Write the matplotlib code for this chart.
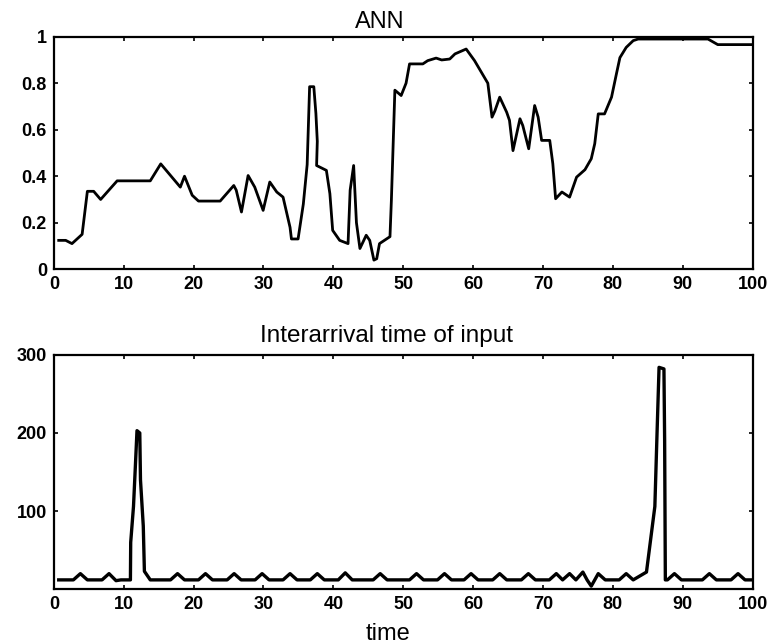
import matplotlib.pyplot as plt
from matplotlib.ticker import FormatStrFormatter

plt.rcParams['font.family'] = ['Liberation Sans', 'DejaVu Sans']

# ANN output
annT = [0.7, 1.7, 2.6, 4.05, 4.8, 5.7, 6.7, 9.06, 13.8, 15.3, 18.1, 18.7, 19.8, 20.7, 23.8,
        25.75, 26.1, 26.85, 27.8, 28.75, 29.95, 30.9, 31.9, 32.8, 33.8, 34.0, 34.95, 35.7,
        36.25, 36.6, 37.2, 37.5, 37.7, 37.6, 39.0, 39.5, 39.9, 40.9, 42.1, 42.4, 42.9, 43.3,
        43.8, 44.7, 45.2, 45.8, 46.2, 46.6, 47.1, 48.1, 48.3, 48.8, 49.7, 50.4, 50.9, 52.8,
        53.5, 54.7, 55.5, 56.65, 57.4, 59.0, 60.2, 62.1, 62.7, 63.1, 63.8, 64.8, 65.2, 65.7,
        66.7, 67.1, 67.95, 68.8, 69.3, 69.8, 70.96, 71.4, 71.8, 72.7, 73.8, 74.8, 76.0,
        76.9, 77.4, 77.9, 78.8, 79.8, 80.5, 81.0, 81.9, 82.9, 83.6, 93.6, 95.0, 100.0]
annY = [0.124, 0.124, 0.11, 0.15, 0.335, 0.335, 0.30, 0.38, 0.38, 0.453, 0.353, 0.40, 0.318,
        0.293, 0.293, 0.36, 0.34, 0.246, 0.403, 0.353, 0.253, 0.375, 0.332, 0.31, 0.18, 0.13,
        0.13, 0.28, 0.45, 0.785, 0.785, 0.67, 0.55, 0.446, 0.425, 0.325, 0.167, 0.124, 0.11,
        0.34, 0.446, 0.20, 0.089, 0.146, 0.124, 0.039, 0.045, 0.11, 0.12, 0.14, 0.296, 0.77,
        0.747, 0.80, 0.883, 0.883, 0.897, 0.908, 0.90, 0.904, 0.926, 0.947, 0.897, 0.80,
        0.654, 0.68, 0.74, 0.675, 0.64, 0.51, 0.647, 0.618, 0.518, 0.704, 0.654, 0.554,
        0.554, 0.454, 0.303, 0.332, 0.31, 0.396, 0.428, 0.475, 0.54, 0.668, 0.668, 0.74,
        0.84, 0.91, 0.954, 0.983, 0.99, 0.99, 0.966, 0.966]

# interarrival time of input
iaT = [0.7, 2.8, 3.8, 4.8, 6.9, 7.9, 8.9, 9.6, 10.96, 11.0, 11.4, 11.66, 11.9, 12.3, 12.4,
       12.8, 12.96, 13.8, 16.7, 17.7, 18.7, 20.7, 21.7, 22.7, 24.8, 25.8, 26.8, 28.8, 29.8,
       30.8, 32.8, 33.8, 34.8, 36.7, 37.7, 38.7, 40.7, 41.7, 42.7, 45.7, 46.7, 47.7, 50.9,
       51.9, 52.9, 54.9, 55.9, 56.9, 58.7, 59.7, 60.7, 62.8, 63.8, 64.8, 66.9, 67.9, 68.9,
       70.9, 71.9, 72.8, 73.8, 74.7, 75.7, 76.3, 76.9, 77.9, 78.9, 80.9, 81.9, 82.9, 84.8,
       86.0, 86.3, 86.6, 87.3, 87.4, 87.5, 87.8, 88.8, 89.8, 92.8, 93.8, 94.8, 96.9, 97.9,
       98.9, 100.0]
iaY = [12, 12, 20, 12, 12, 20, 11, 12, 12, 60, 106, 156, 203, 200, 140, 81, 23, 12, 12, 20,
       12, 12, 20, 12, 12, 20, 12, 12, 20, 12, 12, 20, 12, 12, 20, 12, 12, 21, 12, 12, 20, 12,
       12, 20, 12, 12, 20, 12, 12, 20, 12, 12, 20, 12, 12, 20, 12, 12, 20, 12, 20, 12, 22, 12,
       4, 20, 12, 12, 20, 12, 22, 106, 196, 284, 282, 190, 12, 12, 20, 12, 12, 20, 12, 12, 20,
       12, 12]

fig = plt.figure(figsize=(7.8, 6.44), dpi=100)
ax1 = fig.add_axes([0.069, 0.582, 0.896, 0.361])
ax2 = fig.add_axes([0.069, 0.085, 0.896, 0.364])

ax1.plot(annT, annY, color='black', lw=2.0)
ax1.set_xlim(0, 100)
ax1.set_ylim(0, 1)
ax1.set_yticks([0, 0.2, 0.4, 0.6, 0.8, 1])
ax1.yaxis.set_major_formatter(FormatStrFormatter('%g'))
ax1.set_title('ANN', fontsize=17, pad=6, x=0.467)

ax2.plot(iaT, iaY, color='black', lw=2.4)
ax2.set_xlim(0, 100)
ax2.set_ylim(0, 300)
ax2.set_yticks([100, 200, 300])
ax2.set_title('Interarrival time of input', fontsize=17.5, pad=9, x=0.476)
ax2.set_xlabel('time', fontsize=17)
ax2.xaxis.set_label_coords(0.478, -0.142)

for ax in (ax1, ax2):
    ax.set_xticks(range(0, 101, 10))
    ax.tick_params(direction='in', length=3, width=1.2, labelsize=13, top=True, right=True,
                   pad=5)
    for lab in ax.get_xticklabels() + ax.get_yticklabels():
        lab.set_fontweight('bold')
    for s in ax.spines.values():
        s.set_linewidth(1.6)

plt.savefig('out.png', dpi=100)
